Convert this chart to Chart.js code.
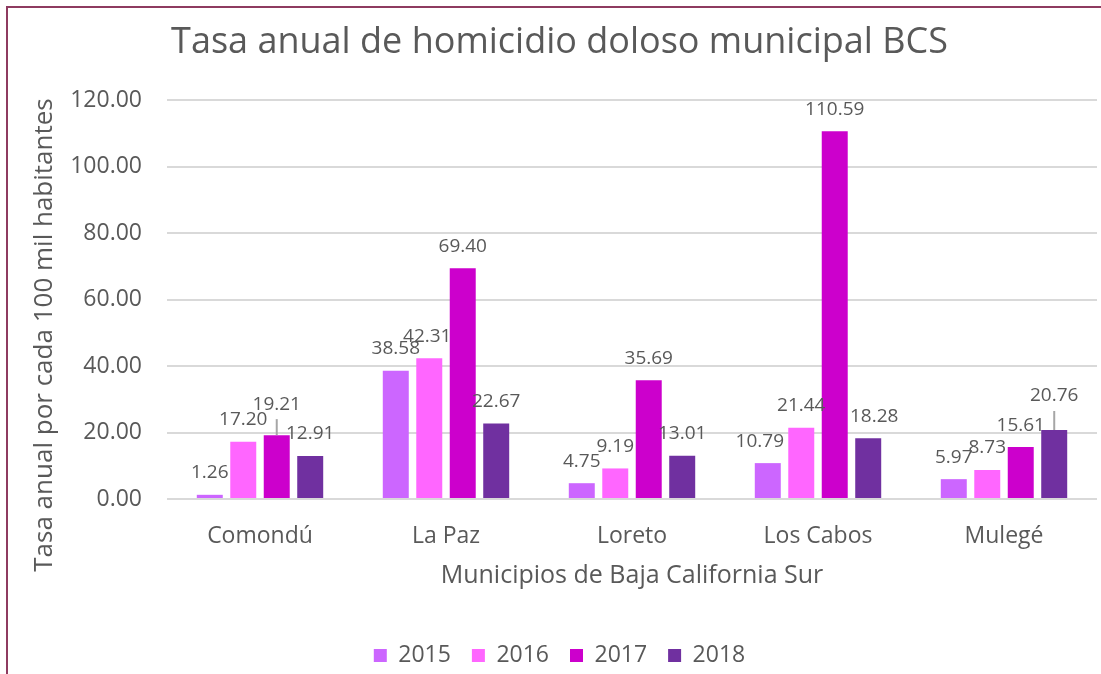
<!DOCTYPE html>
<html>
<head>
<meta charset="utf-8">
<script src="https://cdn.jsdelivr.net/npm/chart.js@4.4.1/dist/chart.umd.min.js"></script>
<style>
  html, body { margin: 0; padding: 0; background: #fff; overflow: hidden; }
  #frame {
    position: absolute; left: 6px; top: 6px; width: 1120px; height: 720px;
    border-left: 2px solid #8e3b60; border-top: 2px solid #8e3b60;
  }
  #chart { position: absolute; left: 8px; top: 8px; }
</style>
</head>
<body>
<div id="frame"></div>
<canvas id="chart" width="1112" height="690"></canvas>
<script>
// Tasa anual de homicidio doloso por municipio, BCS
const municipios = ['Comondú', 'La Paz', 'Loreto', 'Los Cabos', 'Mulegé'];
const years = ['2015', '2016', '2017', '2018'];
const tasa2015 = [1.26, 38.58, 4.75, 10.79, 5.97];
const tasa2016 = [17.20, 42.31, 9.19, 21.44, 8.73];
const tasa2017 = [19.21, 69.40, 35.69, 110.59, 15.61];
const tasa2018 = [12.91, 22.67, 13.01, 18.28, 20.76];
const yTicks = [0, 20, 40, 60, 80, 100, 120];

const colors = ['#CC66FF', '#FF66FF', '#CC00CC', '#7030A0'];
const FONT = 'Open Sans';
const GREY = '#595959';
const yTitle = 'Tasa anual por cada 100 mil habitantes';

// label nudges (pixels) where Excel moved labels to avoid overlap
const labelNudge = {
    '2-0': { dy: -9, leader: true },
    '3-4': { dy: -12, leader: true },
    '1-1': { dx: -2 },
    '0-3': { dx: -8 },
    '3-3': { dx: 6 }
};

const barLabels = {
    id: 'barLabels',
    afterDatasetsDraw(chart) {
        const ctx = chart.ctx;
        ctx.save();
        ctx.font = '19px "' + FONT + '"';
        ctx.fillStyle = GREY;
        ctx.textAlign = 'center';
        ctx.textBaseline = 'middle';
        chart.data.datasets.forEach((ds, di) => {
            chart.getDatasetMeta(di).data.forEach((bar, i) => {
                const n = labelNudge[di + '-' + i] || {};
                const x = bar.x + (n.dx || 0);
                const y = bar.y - 22 + (n.dy || 0);
                if (n.leader) {
                    ctx.strokeStyle = '#A6A6A6';
                    ctx.lineWidth = 2;
                    ctx.beginPath();
                    ctx.moveTo(bar.x, y + 15);
                    ctx.lineTo(bar.x, bar.y);
                    ctx.stroke();
                }
                ctx.fillText(ds.data[i].toFixed(2), x, y);
            });
        });
        // y axis title, centred on the whole plot block like Excel does
        ctx.translate(37, 327);
        ctx.rotate(-Math.PI / 2);
        ctx.font = '26px "' + FONT + '"';
        ctx.fillText(yTitle, 0, 0);
        ctx.restore();
    }
};

const ctx = document.getElementById('chart').getContext('2d');
new Chart(ctx, {
    type: 'bar',
    data: {
        labels: municipios,
        datasets: [tasa2015, tasa2016, tasa2017, tasa2018].map((d, k) => ({
            label: years[k],
            data: d,
            backgroundColor: colors[k],
            categoryPercentage: 0.72,
            barPercentage: 0.776
        }))
    },
    options: {
        responsive: false,
        animation: false,
        layout: { padding: { top: 0, left: 14, right: 23, bottom: 21 } },
        plugins: {
            tooltip: { enabled: false },
            title: {
                display: true,
                text: 'Tasa anual de homicidio doloso municipal BCS',
                color: GREY,
                font: { family: FONT, size: 36, weight: 'normal' },
                padding: { top: 13, bottom: 35.8 }
            },
            legend: {
                position: 'bottom',
                labels: {
                    boxWidth: 13,
                    boxHeight: 13,
                    padding: 21,
                    color: GREY,
                    font: { family: FONT, size: 23 }
                }
            }
        },
        scales: {
            x: {
                grid: { display: false },
                border: { display: false },
                ticks: { color: GREY, padding: 16, font: { family: FONT, size: 23 } },
                title: {
                    display: true,
                    text: 'Municipios de Baja California Sur',
                    color: GREY,
                    font: { family: FONT, size: 25 },
                    padding: { top: 4, bottom: 32 }
                },
                afterFit(scale) { scale.height = 124; }
            },
            y: {
                min: 0,
                max: 120,
                afterBuildTicks(scale) { scale.ticks = yTicks.map(v => ({ value: v })); },
                grid: { color: '#D9D9D9', lineWidth: 2, drawTicks: false },
                border: { display: false },
                ticks: {
                    color: GREY,
                    padding: 25,
                    font: { family: FONT, size: 23 },
                    callback: v => v.toFixed(2)
                },
                afterFit(scale) { scale.width = 145; }
            }
        }
    },
    plugins: [barLabels]
});
</script>
</body>
</html>
